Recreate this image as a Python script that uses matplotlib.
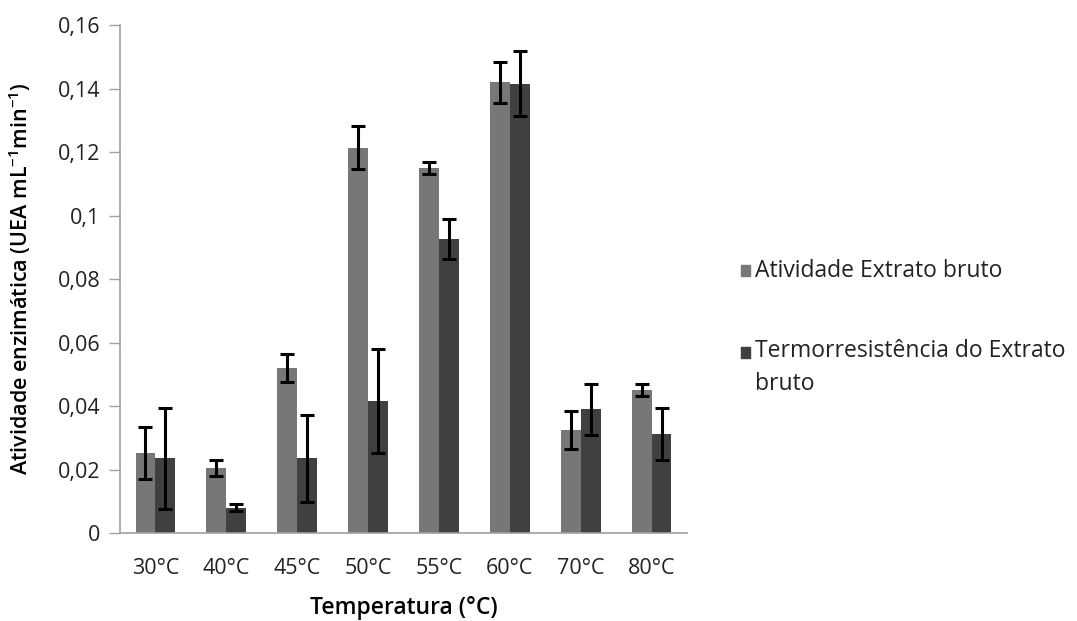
import matplotlib
matplotlib.use("Agg")
import matplotlib.pyplot as plt
from matplotlib.patches import Rectangle
import numpy as np
from matplotlib.ticker import FuncFormatter

temps = ["30°C", "40°C", "45°C", "50°C", "55°C", "60°C", "70°C", "80°C"]
atividade = [0.0252, 0.0205, 0.0520, 0.1213, 0.1150, 0.1420, 0.0325, 0.0450]
atividade_err = [0.0083, 0.0025, 0.0045, 0.0068, 0.0020, 0.0065, 0.0060, 0.0020]
termo = [0.0235, 0.0080, 0.0235, 0.0416, 0.0925, 0.1415, 0.0390, 0.0312]
termo_err = [0.0158, 0.0012, 0.0138, 0.0163, 0.0063, 0.0102, 0.0080, 0.0082]

labels = ["Atividade Extrato bruto", "Termorresistência do Extrato\nbruto"]
colors = ["#777777", "#404040"]

plt.rcParams["font.family"] = ["Open Sans", "DejaVu Sans"]

fig = plt.figure(figsize=(10.77, 6.21), dpi=100)
ax = fig.add_axes([0.1114, 0.1417, 0.5265, 0.818])

x = np.arange(len(temps))
w = 0.28
err_kw = dict(ecolor="black", elinewidth=2.2, capsize=5, capthick=2.2)
ax.bar(x - w / 2, atividade, w, yerr=atividade_err, color=colors[0], error_kw=err_kw)
ax.bar(x + w / 2, termo, w, yerr=termo_err, color=colors[1], error_kw=err_kw)

ax.set_xlim(-0.5, len(temps) - 0.5)
ax.set_ylim(0, 0.16)
ax.set_yticks(np.arange(0, 0.161, 0.02))
ax.yaxis.set_major_formatter(FuncFormatter(lambda v, p: f"{v:g}".replace(".", ",")))
ax.set_xticks(x)
ax.set_xticklabels(temps)
ax.tick_params(axis="x", length=0, labelsize=15.5, pad=18, colors="#222222")
ax.tick_params(axis="y", length=8, width=1, color="#a0a0a0", labelsize=15.5,
               pad=6, labelcolor="#222222")

for s in ["top", "right"]:
    ax.spines[s].set_visible(False)
for s in ["left", "bottom"]:
    ax.spines[s].set_color("#a0a0a0")
    ax.spines[s].set_linewidth(1.2)

ax.set_xlabel("Temperatura (°C)", fontsize=16.5, fontweight="semibold", labelpad=12)
ax.set_ylabel("Atividade enzimática (UEA mL$^{\\mathregular{-1}}$min$^{\\mathregular{-1}}$)",
              fontsize=15.5, fontweight="semibold")
ax.yaxis.set_label_coords(-0.154, 0.5)

# legend drawn by hand: marker next to the first line of each label
first_base = [0.554, 0.422]
step = 31 / 621
for lab, col, yy in zip(labels, colors, first_base):
    n = lab.count("\n")
    fig.patches.append(Rectangle((0.688, yy + 0.002), 0.0080, 0.018,
                                 transform=fig.transFigure, color=col))
    fig.text(0.701, yy - n * step, lab, fontsize=16.5, ha="left", va="baseline",
             color="#222222", linespacing=1.5, transform=fig.transFigure)

fig.savefig("out.png", dpi=100)
